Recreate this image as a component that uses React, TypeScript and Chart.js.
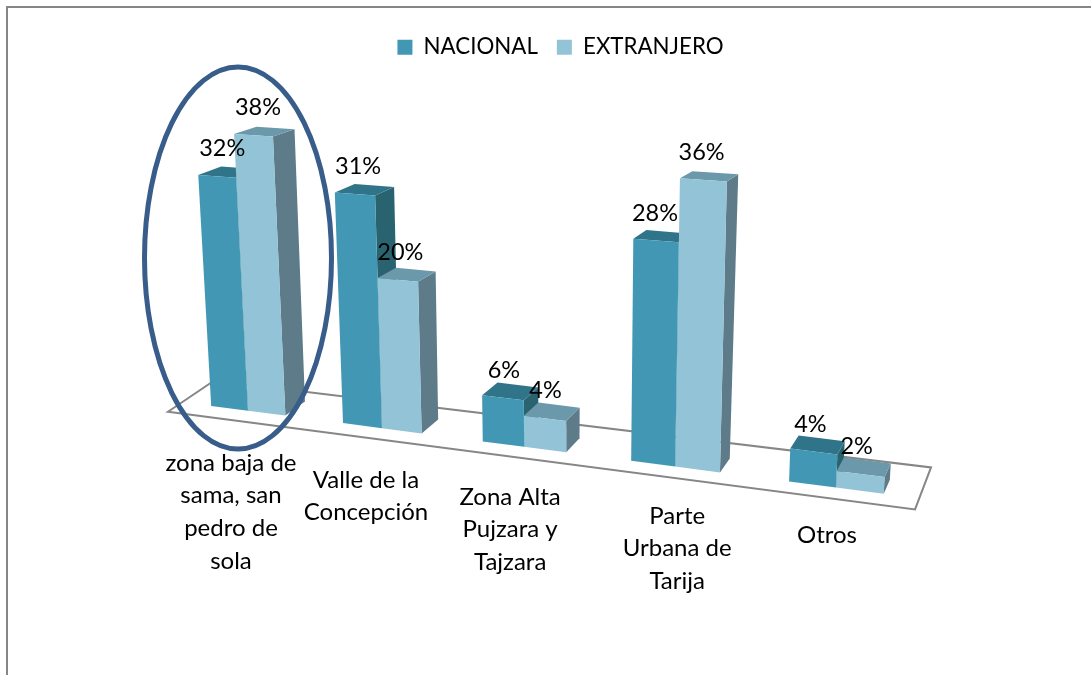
import React, { useEffect, useRef } from "react";
import { Chart, registerables } from "chart.js";

Chart.register(...registerables);

const categoryLines = [
  ["zona baja de", "sama, san", "pedro de", "sola"],
  ["Valle de la", "Concepción"],
  ["Zona Alta", "Pujzara y", "Tajzara"],
  ["Parte", "Urbana de", "Tarija"],
  ["Otros"],
];
const nacional = [32, 31, 6, 28, 4];
const extranjero = [38, 20, 4, 36, 2];
const seriesNames = ["NACIONAL", "EXTRANJERO"];

const labelDx = [-17, -16, -14, 2, -9];
const labelTop = [463, 480, 497, 516, 535];
const FONT = "Lato";
const LEGEND_SIZE = 22.3;
const VALUE_SIZE = 23.5;
const CATEGORY_SIZE = 24;

const COL = [
  { front: "#4298B4", top: "#30748A", side: "#296370" },
  { front: "#92C3D6", top: "#6C98AB", side: "#5D7B88" },
];

// Perspective of the 3-D plane
const P = { a: 123.06, b: 248, e: -0.02863, vx: 570, vy: 6811 };
const projX = (u: number) => (P.a * u + P.b) / (1 + P.e * u);
const baseY = (x: number) => 406 + 0.1307 * (x - 212);
const pxPerUnit = (x: number) => 7.22 + 0.0017 * (x - 212);
const lean = (x: number, yb: number, yt: number) =>
  P.vx + ((x - P.vx) * (P.vy - yt)) / (P.vy - yb);
const depth = (x: number, h: number) => ({
  dx: 26 - 0.0225 * x + 0.006 * h,
  dy: -(14 - 0.024 * h),
});

type Pt = [number, number];
function poly(ctx: CanvasRenderingContext2D, pts: Pt[], fill: string) {
  ctx.beginPath();
  pts.forEach((p, i) => (i ? ctx.lineTo(p[0], p[1]) : ctx.moveTo(p[0], p[1])));
  ctx.closePath();
  ctx.fillStyle = fill;
  ctx.fill();
}

const bars3d = {
  id: "bars3d",
  beforeDatasetDraw() {
    return false; // the faces are drawn below from the same bar elements
  },
  beforeDatasetsDraw(chart: any) {
    const ctx = chart.ctx as CanvasRenderingContext2D;
    ctx.save();
    ctx.strokeStyle = "#868686";
    ctx.lineWidth = 2;
    ctx.beginPath();
    ctx.moveTo(7, 675);
    ctx.lineTo(7, 7);
    ctx.lineTo(1091, 7);
    ctx.stroke();

    const xl = projX(-0.626);
    const xr = projX(4.469);
    ctx.lineWidth = 2;
    ctx.lineJoin = "miter";
    ctx.beginPath();
    ctx.moveTo(xl, baseY(xl) + 11.5);
    ctx.lineTo(xr, baseY(xr) + 11.5);
    ctx.lineTo(xr + 16, baseY(xr) + 11.5 - 42);
    ctx.lineTo(xl + 46, baseY(xl) + 11.5 - 31);
    ctx.closePath();
    ctx.stroke();
    ctx.restore();
  },
  afterDatasetsDraw(chart: any) {
    const ctx = chart.ctx as CanvasRenderingContext2D;
    const xs = chart.scales.x;
    const ys = chart.scales.y;
    const x0 = xs.getPixelForValue(0);
    const step = xs.getPixelForValue(1) - x0;
    const unit = ys.getPixelForValue(0) - ys.getPixelForValue(1);
    const texts: { t: string; x: number; y: number }[] = [];

    ctx.save();
    for (let i = 0; i < categoryLines.length; i++) {
      for (let d = 0; d < chart.data.datasets.length; d++) {
        const el = chart.getDatasetMeta(d).data[i];
        const value = (el.base - el.y) / unit;
        const u = (el.x - x0) / step;
        const half = el.width / 2 / step;
        const bx1 = projX(u - half);
        const bx2 = projX(u + half);
        const by1 = baseY(bx1);
        const by2 = baseY(bx2);
        const h1 = value * pxPerUnit(bx1);
        const h2 = value * pxPerUnit(bx2);
        const ty1 = by1 - h1;
        const ty2 = by2 - h2;
        const tx1 = lean(bx1, by1, ty1);
        const tx2 = lean(bx2, by2, ty2);
        const d1 = depth(tx1, h1);
        const d2 = depth(tx2, h2);
        const d3 = depth(bx2, 0);
        const c = COL[d];
        poly(ctx, [[tx2, ty2], [tx2 + d2.dx, ty2 + d2.dy], [bx2 + d3.dx, by2 + d3.dy], [bx2, by2]], c.side);
        poly(ctx, [[tx1, ty1], [tx2, ty2], [tx2 + d2.dx, ty2 + d2.dy], [tx1 + d1.dx, ty1 + d1.dy]], c.top);
        poly(ctx, [[tx1, ty1], [tx2, ty2], [bx2, by2], [bx1, by1]], c.front);
        const cx = (tx1 + tx2) / 2;
        const cy = (ty1 + ty2) / 2;
        texts.push({ t: `${Math.round(value)}%`, x: cx + 5 - (cx - 218) * 0.014, y: cy - 27.5 });
      }
    }

    ctx.fillStyle = "#000";
    ctx.textAlign = "center";
    ctx.textBaseline = "middle";
    ctx.font = `${VALUE_SIZE}px ${FONT}`;
    texts.forEach((t) => ctx.fillText(t.t, t.x, t.y));

    ctx.font = `${CATEGORY_SIZE}px ${FONT}`;
    categoryLines.forEach((lines, i) => {
      const cx = projX(i) + labelDx[i];
      lines.forEach((line, k) => ctx.fillText(line, cx, labelTop[i] + k * 32.7));
    });

    ctx.strokeStyle = "#385D8A";
    ctx.lineWidth = 5;
    ctx.beginPath();
    ctx.ellipse(238, 258, 93.5, 191, 0, 0, Math.PI * 2);
    ctx.stroke();
    ctx.restore();
  },
};

export default function App() {
  const ref = useRef<HTMLCanvasElement>(null);
  useEffect(() => {
    const chart = new Chart(ref.current!, {
      type: "bar",
      data: {
        labels: categoryLines.map((l) => l.join(" ")),
        datasets: [
          { label: seriesNames[0], data: nacional, backgroundColor: COL[0].front, categoryPercentage: 0.57, barPercentage: 1 },
          { label: seriesNames[1], data: extranjero, backgroundColor: COL[1].front, categoryPercentage: 0.57, barPercentage: 1 },
        ],
      },
      options: {
        responsive: false,
        animation: false,
        layout: { padding: { left: 30, top: 17, right: 0, bottom: 100 } },
        scales: {
          x: { display: false },
          y: { display: false, min: 0, max: 40 },
        },
        plugins: {
          tooltip: { enabled: false },
          legend: {
            position: "top",
            labels: {
              boxWidth: 15,
              boxHeight: 15,
              padding: 19,
              color: "#000",
              font: { family: FONT, size: LEGEND_SIZE },
            },
          },
        },
      },
      plugins: [bars3d],
    } as any);
    return () => chart.destroy();
  }, []);
  return (
    <canvas
      ref={ref}
      width={1091}
      height={675}
      style={{ position: "fixed", left: 0, top: 0, display: "block" }}
    />
  );
}
